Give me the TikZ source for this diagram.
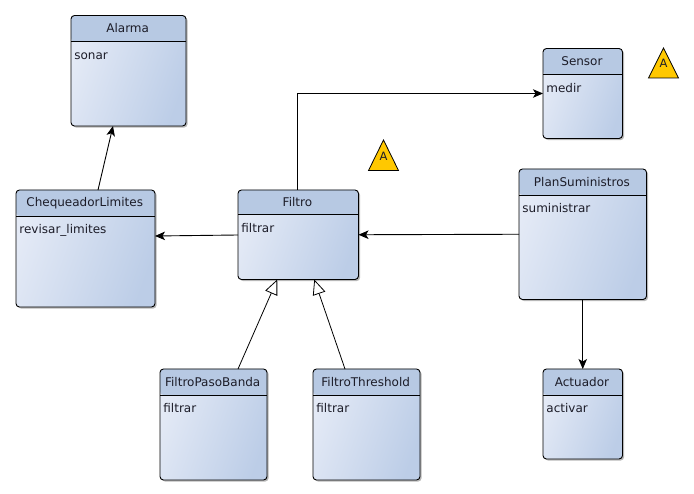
\documentclass[tikz,border=0pt]{standalone}
\usepackage{fontspec}
\setmainfont{DejaVu Sans}
\usetikzlibrary{arrows.meta,shadows,calc}
\definecolor{headblue}{HTML}{B7C9E3}
\definecolor{lightblue}{HTML}{E4EAF6}
\definecolor{darkblue}{HTML}{BCCDE7}
\definecolor{inktext}{HTML}{1C1C28}
\definecolor{warnfill}{HTML}{FFC800}
\tikzset{
  classbox/.style={draw=black,line width=.9pt,rounded corners=3.5pt,inner sep=0pt,outer sep=0pt,
    left color=lightblue,right color=darkblue,shading angle=70,
    drop shadow={shadow xshift=1.6pt,shadow yshift=-1.6pt,fill=black,opacity=.28},
    path picture={
      \fill[headblue] (path picture bounding box.north west) rectangle ([yshift=-#1pt]path picture bounding box.north east);
      \draw[black,line width=.9pt] ([yshift=-#1pt]path picture bounding box.north west) -- ([yshift=-#1pt]path picture bounding box.north east);
    }},
  classtitle/.style={text=inktext,font=\fontsize{12}{14}\selectfont,inner sep=0pt,anchor=center},
  classbody/.style={text=inktext,font=\fontsize{12}{14}\selectfont,inner sep=0pt,anchor=base west},
  assoc/.style={draw=black,line width=.9pt,-{Stealth[length=10pt,width=8.5pt,inset=2.5pt]}},
  inherit/.style={draw=black,line width=.8pt,-{Triangle[open,fill=white,length=15pt,width=13pt]}},
  warn/.style={draw=black,line width=.8pt,fill=warnfill,line join=miter},
  warntext/.style={text=inktext,font=\fontsize{11.5}{13}\selectfont,inner sep=0pt},
}
% name, x1, y1, x2, y2, header height, title, body
\newcommand{\umlclass}[8]{%
  \pgfmathsetmacro{\bw}{#4-#2}\pgfmathsetmacro{\bh}{#5-#3}%
  \pgfmathsetmacro{\cx}{(#2+#4)/2}\pgfmathsetmacro{\cy}{(#3+#5)/2}%
  \pgfmathsetmacro{\tx}{\cx-0.8}%
  \pgfmathsetmacro{\ty}{#3+#6/2}\pgfmathsetmacro{\by}{#3+#6+17.7}\pgfmathsetmacro{\bx}{#2+3.2}%
  \node[classbox=#6,minimum width=\bw pt,minimum height=\bh pt] (#1) at (\cx,\cy) {};
  \node[classtitle] (#1title) at (\tx,\ty) {#7};
  \node[classbody] (#1body) at (\bx,\by) {#8};
}
\begin{document}
\begin{tikzpicture}[x=1pt,y=-1pt]
\useasboundingbox (0,0) rectangle (694,494);
\umlclass{alarma}{71}{15.5}{186}{126}{26}{Alarma}{sonar}
\umlclass{sensor}{543}{48.5}{622.5}{138.5}{26}{Sensor}{medir}
\umlclass{filtro}{238}{190}{358.5}{279.5}{24.5}{Filtro}{filtrar}
\umlclass{chequeador}{16}{190}{155}{307}{26}{ChequeadorLimites}{revisar\_limites}
\umlclass{plan}{519}{169}{646.5}{299.5}{26}{PlanSuministros}{suministrar}
\umlclass{pasobanda}{160}{369}{267}{480}{26}{FiltroPasoBanda}{filtrar}
\umlclass{threshold}{313}{369}{420}{480}{26}{FiltroThreshold}{filtrar}
\umlclass{actuador}{543}{369}{622.5}{459}{26}{Actuador}{activar}

\draw[assoc] ([xshift=12.5pt]chequeador.north) -- ([xshift=-15.5pt]alarma.south);
\draw[assoc] ([yshift=-0.25pt]filtro.west) -- ([yshift=12.5pt]chequeador.east);
\draw[assoc] ([xshift=-0.75pt]filtro.north) |- (sensor.west);
\draw[assoc] (plan.west) -- (filtro.east);
\draw[assoc] (plan.south) -- (actuador.north);
\draw[inherit] ([xshift=-29pt]pasobanda.north east) -- ([xshift=-21pt]filtro.south);
\draw[inherit] ([xshift=-21.5pt]threshold.north) -- ([xshift=16pt]filtro.south);

\draw[warn] (383.5,140) -- (398.5,170.5) -- (368.5,170.5) -- cycle;
\node[warntext] (warna) at (383.5,156) {A};
\draw[warn] (663.5,48) -- (678.5,78) -- (648.5,78) -- cycle;
\node[warntext] (warnb) at (663.5,63) {A};
\end{tikzpicture}
\end{document}
